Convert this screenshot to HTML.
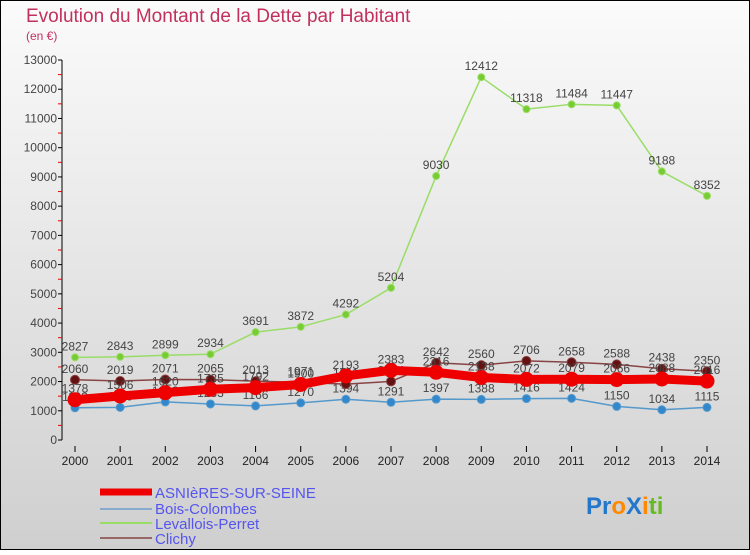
<!DOCTYPE html>
<html><head><meta charset="utf-8"><style>
html,body{margin:0;padding:0}
body{width:750px;height:550px;overflow:hidden;font-family:"Liberation Sans",sans-serif}
</style></head><body>
<svg id="chart" width="750" height="550" xmlns="http://www.w3.org/2000/svg" font-family="Liberation Sans, sans-serif">
<defs><linearGradient id="bg" x1="0" y1="0" x2="0" y2="1"><stop offset="0" stop-color="#fbfbfb"/><stop offset="1" stop-color="#cfcfcf"/></linearGradient></defs>
<rect x="0" y="0" width="750" height="550" fill="url(#bg)" stroke="#000" stroke-width="2"/>
<text x="26" y="22" font-size="19" fill="#c2305e">Evolution du Montant de la Dette par Habitant</text>
<text x="26" y="40" font-size="12" fill="#c2305e">(en €)</text>
<g id="axes"></g><g id="series"></g>
<g font-size="15" fill="#5555ee">
<line x1="100" y1="492" x2="152" y2="492" stroke="#ee0000" stroke-width="7"/><text x="155" y="498">ASNIèRES-SUR-SEINE</text>
<line x1="100" y1="509" x2="152" y2="509" stroke="#88aacc" stroke-width="2"/><text x="155" y="514">Bois-Colombes</text>
<line x1="100" y1="523" x2="152" y2="523" stroke="#99dd66" stroke-width="2"/><text x="155" y="529">Levallois-Perret</text>
<line x1="100" y1="538" x2="152" y2="538" stroke="#996666" stroke-width="2"/><text x="155" y="544">Clichy</text>
</g>
<g font-size="24" font-weight="bold">
<text x="586" y="514"><tspan fill="#2277cc">Pr</tspan><tspan fill="#ff8800">o</tspan><tspan fill="#2277cc">X</tspan><tspan fill="#ff8800">i</tspan><tspan fill="#66bb22">ti</tspan></text>
</g>
</svg>
<script>
const years=["2000","2001","2002","2003","2004","2005","2006","2007","2008","2009","2010","2011","2012","2013","2014"];
const yTicks=[0,1000,2000,3000,4000,5000,6000,7000,8000,9000,10000,11000,12000,13000];
const asnieres=[1378,1506,1620,1735,1792,1900,2193,2383,2316,2138,2072,2079,2066,2088,2016];
const boisColombes=[1103,1116,1303,1233,1166,1270,1394,1291,1397,1388,1416,1424,1150,1034,1115];
const levallois=[2827,2843,2899,2934,3691,3872,4292,5204,9030,12412,11318,11484,11447,9188,8352];
const clichy=[2060,2019,2071,2065,2013,1971,1911,2004,2642,2560,2706,2658,2588,2438,2350];
const NS="http://www.w3.org/2000/svg";
const x=i=>75+i*(707-75)/(years.length-1);
const y=v=>440-v*(380/13000);
function mk(tag,attrs,parent){const e=document.createElementNS(NS,tag);for(const k in attrs)e.setAttribute(k,attrs[k]);parent.appendChild(e);return e;}
const axes=document.getElementById('axes');
const ax=mk('line',{x1:62,y1:60,x2:62,y2:440,stroke:'#000'},axes);


yTicks.forEach(v=>{
  mk('line',{x1:58,y1:y(v),x2:62,y2:y(v),stroke:'#000'},axes);
  if(v<13000) mk('line',{x1:58,y1:y(v+500),x2:62,y2:y(v+500),stroke:'#e00'},axes);
  const t=mk('text',{x:57,y:y(v)+4,'font-size':12,fill:'#444','text-anchor':'end'},axes);
  
  
  t.textContent=v;
});
years.forEach((yr,i)=>{
  mk('line',{x1:x(i),y1:446,x2:x(i),y2:452,stroke:'#000'},axes);
  const t=mk('text',{x:x(i),y:465,'font-size':12,fill:'#222','text-anchor':'middle'},axes);
  
  t.textContent=yr;
  
});
const sg=document.getElementById('series');
function series(name,data,color,w,r,fill){
  const g=mk('g',{},sg);
  
  
  mk('polyline',{points:data.map((v,i)=>x(i)+','+y(v)).join(' '),fill:'none',stroke:color,'stroke-width':w,'stroke-linejoin':'round'},g);
  data.forEach((v,i)=>{
    const c=mk('circle',{cx:x(i),cy:y(v),r:r,fill:fill,stroke:color,'stroke-width':1},g);
    
    
    const t=mk('text',{x:x(i),y:y(v)-7,'font-size':12,fill:'#444','text-anchor':'middle'},g);
    
    
    t.textContent=v;
  });
}
series('levallois-line',levallois,'#99dd66',1.5,3.5,'#77cc33');
series('bois-colombes-line',boisColombes,'#5599cc',1.5,4,'#3388cc');
series('clichy-line',clichy,'#884444',1.5,4.5,'#661111');
series('asnieres-line',asnieres,'#ee0000',9,7,'#ee0000');
</script>
</body></html>
